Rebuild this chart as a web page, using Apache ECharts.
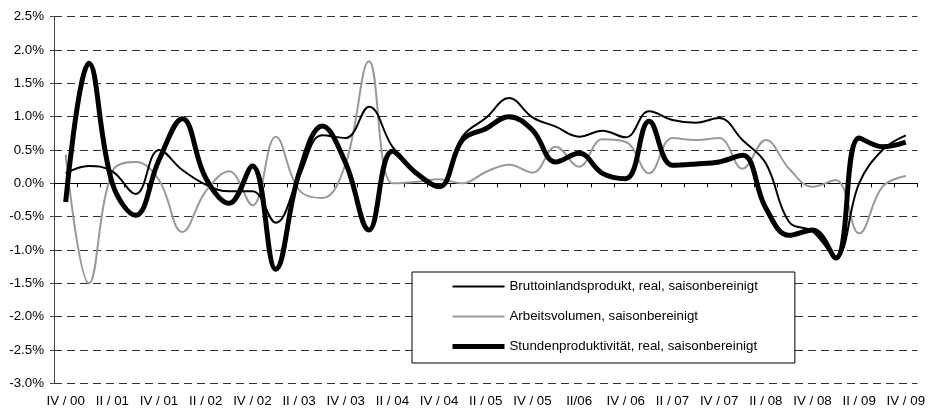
<!DOCTYPE html>
<html>
<head>
<meta charset="utf-8">
<script src="https://cdn.jsdelivr.net/npm/echarts@6/dist/echarts.min.js"></script>
<style>
html,body{margin:0;padding:0;background:#fff;}
#chart{width:928px;height:410px;}
</style>
</head>
<body>
<div id="chart"></div>
<script>
const categories = ['IV / 00','I / 01','II / 01','III / 01','IV / 01','I / 02','II / 02','III / 02','IV / 02','I / 03','II / 03','III / 03','IV / 03','I / 04','II / 04','III / 04','IV / 04','I / 05','II / 05','III / 05','IV / 05','I / 06','II/06','III / 06','IV / 06','I / 07','II / 07','III / 07','IV / 07','I / 08','II / 08','III / 08','IV / 08','I / 09','II / 09','III / 09','IV / 09'];

const seriesNames = ['Bruttoinlandsprodukt, real, saisonbereinigt','Arbeitsvolumen, saisonbereinigt','Stundenproduktivität, real, saisonbereinigt'];

const bip = [0.15, 0.26, 0.18, -0.16, 0.50, 0.20, -0.02, -0.12, -0.12, -0.59, 0.10, 0.72, 0.68, 1.15, 0.55, 0.17, -0.05, 0.70, 0.98, 1.28, 0.99, 0.85, 0.70, 0.79, 0.69, 1.08, 0.95, 0.91, 0.98, 0.65, 0.30, -0.58, -0.72, -1.10, 0.00, 0.50, 0.72];

const arbeitsvolumen = [0.43, -1.50, 0.18, 0.32, 0.05, -0.73, -0.12, 0.18, -0.33, 0.70, -0.10, -0.22, 0.30, 1.83, 0.00, 0.02, 0.06, 0.00, 0.17, 0.28, 0.16, 0.55, 0.25, 0.66, 0.62, 0.15, 0.68, 0.65, 0.68, 0.22, 0.65, 0.22, -0.05, 0.05, -0.75, -0.05, 0.11];

const stundenproduktivitaet = [-0.28, 1.80, 0.00, -0.48, 0.35, 0.97, 0.08, -0.30, 0.26, -1.29, 0.15, 0.86, 0.30, -0.70, 0.48, 0.16, -0.05, 0.65, 0.82, 1.00, 0.80, 0.32, 0.45, 0.15, 0.07, 0.93, 0.27, 0.29, 0.32, 0.42, -0.37, -0.78, -0.70, -1.12, 0.68, 0.55, 0.62];

const yMin = -3.0, yMax = 2.5, yStep = 0.5;

const chart = echarts.init(document.getElementById('chart'), null, {renderer: 'canvas'});
const font = "'Liberation Sans', Arial, sans-serif";
const fs = 13.3;
const lineColors = ['#000', '#999', '#000'];
const lineWidths = [2, 2, 5];

chart.setOption({
  animation: false,
  backgroundColor: '#ffffff',
  textStyle: {fontFamily: font},
  grid: {left: 54, right: 8, top: 16.7, bottom: 26.7, containLabel: false},
  legend: {
    orient: 'vertical',
    left: 412, top: 272,
    backgroundColor: '#ffffff',
    borderColor: '#000000', borderWidth: 1,
    padding: [8, 37, 10, 38],
    itemWidth: 52, itemHeight: 14, itemGap: 17,
    itemStyle: {opacity: 0},
    textStyle: {fontSize: fs, color: '#000', fontFamily: font},
    data: seriesNames.map((n, i) => ({
      name: n,
      itemStyle: {opacity: 0},
      lineStyle: {color: lineColors[i], width: lineWidths[i]}
    }))
  },
  xAxis: [
    {
      type: 'category', data: categories, boundaryGap: true, position: 'bottom',
      axisLine: {show: false, onZero: false},
      axisTick: {show: false},
      axisLabel: {interval: 1, fontSize: fs, color: '#000', margin: 12, fontFamily: font},
      splitLine: {show: false}
    },
    {
      type: 'category', data: categories, boundaryGap: true, position: 'bottom',
      axisLine: {show: true, onZero: true, lineStyle: {color: '#000', width: 1}},
      axisTick: {show: true, interval: 0, length: 4, lineStyle: {color: '#000'}},
      axisLabel: {show: false},
      splitLine: {show: false}
    }
  ],
  yAxis: {
    type: 'value', min: yMin, max: yMax, interval: yStep,
    axisLine: {show: true, lineStyle: {color: '#444', width: 1}},
    axisTick: {show: true, length: 4, lineStyle: {color: '#444'}},
    axisLabel: {fontSize: fs, color: '#000', margin: 10, fontFamily: font,
      formatter: v => v.toFixed(1) + '%'},
    splitLine: {show: true, lineStyle: {color: '#333', type: [8, 5], width: 1}}
  },
  series: [
    {name: seriesNames[0], type: 'line', data: bip, smooth: 0.4, symbol: 'none', showSymbol: false,
     lineStyle: {color: lineColors[0], width: lineWidths[0]}, itemStyle: {color: lineColors[0]}, z: 3},
    {name: seriesNames[1], type: 'line', data: arbeitsvolumen, smooth: 0.4, symbol: 'none', showSymbol: false,
     lineStyle: {color: lineColors[1], width: lineWidths[1]}, itemStyle: {color: lineColors[1]}, z: 2},
    {name: seriesNames[2], type: 'line', data: stundenproduktivitaet, smooth: 0.4, symbol: 'none', showSymbol: false,
     lineStyle: {color: lineColors[2], width: lineWidths[2]}, itemStyle: {color: lineColors[2]}, z: 4}
  ]
});
</script>
</body>
</html>
